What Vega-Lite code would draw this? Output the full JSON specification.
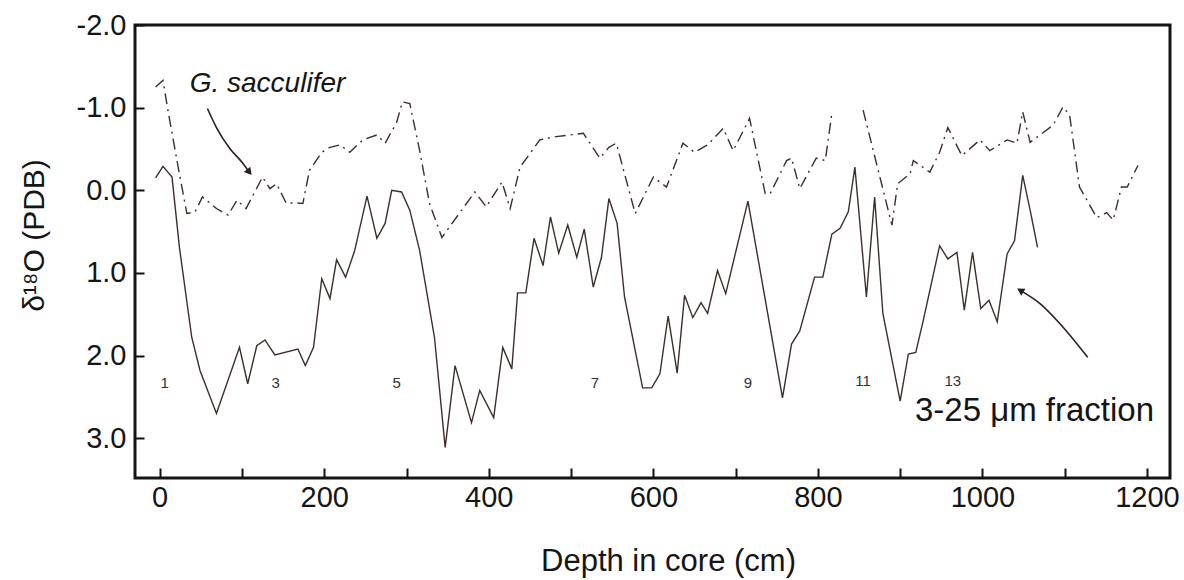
{
  "$schema": "https://vega.github.io/schema/vega-lite/v6.json",
  "width": 1035,
  "height": 453,
  "autosize": {"type": "none"},
  "padding": {"left": 135, "top": 25, "right": 14, "bottom": 102},
  "background": "white",
  "config": {
    "view": {"stroke": "#151515", "strokeWidth": 3},
    "font": "Liberation Sans",
    "axis": {
      "grid": false,
      "domain": false,
      "labelFont": "Liberation Sans",
      "labelFontSize": 29,
      "labelColor": "#151515",
      "titleFont": "Liberation Sans",
      "titleFontSize": 29,
      "titleFontWeight": "normal",
      "titleColor": "#151515"
    }
  },
  "datasets": {
    "fine": [
      {"d": -5, "v": -0.15}, {"d": 4, "v": -0.29}, {"d": 15, "v": -0.16}, {"d": 24, "v": 0.69},
      {"d": 39, "v": 1.78}, {"d": 49, "v": 2.18}, {"d": 69, "v": 2.7}, {"d": 97, "v": 1.9},
      {"d": 107, "v": 2.34}, {"d": 118, "v": 1.88}, {"d": 128, "v": 1.81}, {"d": 140, "v": 1.99},
      {"d": 168, "v": 1.92}, {"d": 177, "v": 2.12}, {"d": 187, "v": 1.9}, {"d": 197, "v": 1.07},
      {"d": 207, "v": 1.31}, {"d": 215, "v": 0.84}, {"d": 226, "v": 1.05}, {"d": 237, "v": 0.73},
      {"d": 252, "v": 0.07}, {"d": 264, "v": 0.58}, {"d": 274, "v": 0.4}, {"d": 282, "v": 0.0},
      {"d": 294, "v": 0.02}, {"d": 304, "v": 0.24}, {"d": 316, "v": 0.73}, {"d": 334, "v": 1.78},
      {"d": 347, "v": 3.11}, {"d": 359, "v": 2.12}, {"d": 379, "v": 2.81}, {"d": 389, "v": 2.42},
      {"d": 406, "v": 2.75}, {"d": 417, "v": 1.9}, {"d": 428, "v": 2.16}, {"d": 435, "v": 1.24},
      {"d": 445, "v": 1.24}, {"d": 455, "v": 0.58}, {"d": 466, "v": 0.91}, {"d": 475, "v": 0.32},
      {"d": 485, "v": 0.76}, {"d": 496, "v": 0.42}, {"d": 507, "v": 0.81}, {"d": 516, "v": 0.47},
      {"d": 527, "v": 1.17}, {"d": 537, "v": 0.81}, {"d": 546, "v": 0.1}, {"d": 556, "v": 0.4},
      {"d": 565, "v": 1.29}, {"d": 587, "v": 2.39}, {"d": 598, "v": 2.39}, {"d": 608, "v": 2.22},
      {"d": 618, "v": 1.52}, {"d": 629, "v": 2.21}, {"d": 638, "v": 1.27}, {"d": 648, "v": 1.54},
      {"d": 658, "v": 1.36}, {"d": 666, "v": 1.49}, {"d": 678, "v": 0.97}, {"d": 688, "v": 1.25},
      {"d": 715, "v": 0.13}, {"d": 757, "v": 2.51}, {"d": 768, "v": 1.86}, {"d": 778, "v": 1.7},
      {"d": 796, "v": 1.05}, {"d": 806, "v": 1.05}, {"d": 817, "v": 0.53}, {"d": 827, "v": 0.46},
      {"d": 837, "v": 0.26}, {"d": 845, "v": -0.28}, {"d": 859, "v": 1.29}, {"d": 869, "v": 0.08},
      {"d": 879, "v": 1.49}, {"d": 900, "v": 2.55}, {"d": 910, "v": 1.98}, {"d": 919, "v": 1.96},
      {"d": 928, "v": 1.58}, {"d": 948, "v": 0.67}, {"d": 958, "v": 0.83}, {"d": 969, "v": 0.75},
      {"d": 978, "v": 1.45}, {"d": 988, "v": 0.75}, {"d": 998, "v": 1.43}, {"d": 1008, "v": 1.33},
      {"d": 1018, "v": 1.59}, {"d": 1030, "v": 0.77}, {"d": 1039, "v": 0.61}, {"d": 1049, "v": -0.18},
      {"d": 1058, "v": 0.24}, {"d": 1067, "v": 0.69}
    ],
    "sacc": [
      {"seg": "a", "d": -5, "v": -1.25}, {"seg": "a", "d": 4, "v": -1.33}, {"seg": "a", "d": 10, "v": -0.97},
      {"seg": "a", "d": 21, "v": -0.36}, {"seg": "a", "d": 33, "v": 0.28}, {"seg": "a", "d": 43, "v": 0.26},
      {"seg": "a", "d": 52, "v": 0.08}, {"seg": "a", "d": 69, "v": 0.22}, {"seg": "a", "d": 83, "v": 0.3},
      {"seg": "a", "d": 94, "v": 0.12}, {"seg": "a", "d": 105, "v": 0.22}, {"seg": "a", "d": 125, "v": -0.16},
      {"seg": "a", "d": 134, "v": -0.02}, {"seg": "a", "d": 142, "v": -0.08}, {"seg": "a", "d": 154, "v": 0.16},
      {"seg": "a", "d": 164, "v": 0.15}, {"seg": "a", "d": 174, "v": 0.16}, {"seg": "a", "d": 182, "v": -0.24},
      {"seg": "a", "d": 197, "v": -0.46}, {"seg": "a", "d": 207, "v": -0.52}, {"seg": "a", "d": 219, "v": -0.55},
      {"seg": "a", "d": 231, "v": -0.46}, {"seg": "a", "d": 247, "v": -0.61}, {"seg": "a", "d": 264, "v": -0.67},
      {"seg": "a", "d": 274, "v": -0.57}, {"seg": "a", "d": 288, "v": -0.82}, {"seg": "a", "d": 295, "v": -1.07},
      {"seg": "a", "d": 304, "v": -1.05}, {"seg": "a", "d": 316, "v": -0.48}, {"seg": "a", "d": 328, "v": 0.16},
      {"seg": "a", "d": 343, "v": 0.57}, {"seg": "a", "d": 383, "v": 0.02}, {"seg": "a", "d": 397, "v": 0.2},
      {"seg": "a", "d": 416, "v": -0.1}, {"seg": "a", "d": 426, "v": 0.22}, {"seg": "a", "d": 438, "v": -0.28},
      {"seg": "a", "d": 462, "v": -0.61}, {"seg": "a", "d": 482, "v": -0.65}, {"seg": "a", "d": 515, "v": -0.69},
      {"seg": "a", "d": 535, "v": -0.39}, {"seg": "a", "d": 546, "v": -0.52}, {"seg": "a", "d": 555, "v": -0.57},
      {"seg": "a", "d": 578, "v": 0.28}, {"seg": "a", "d": 600, "v": -0.16}, {"seg": "a", "d": 616, "v": -0.04},
      {"seg": "a", "d": 636, "v": -0.57}, {"seg": "a", "d": 650, "v": -0.46}, {"seg": "a", "d": 666, "v": -0.55},
      {"seg": "a", "d": 685, "v": -0.75}, {"seg": "a", "d": 697, "v": -0.48}, {"seg": "a", "d": 717, "v": -0.87},
      {"seg": "a", "d": 736, "v": 0.04}, {"seg": "a", "d": 742, "v": 0.04}, {"seg": "a", "d": 762, "v": -0.36},
      {"seg": "a", "d": 768, "v": -0.39}, {"seg": "a", "d": 778, "v": -0.02}, {"seg": "a", "d": 798, "v": -0.39},
      {"seg": "a", "d": 809, "v": -0.36}, {"seg": "a", "d": 817, "v": -0.93},
      {"seg": "b", "d": 855, "v": -0.97}, {"seg": "b", "d": 890, "v": 0.42}, {"seg": "b", "d": 897, "v": -0.08},
      {"seg": "b", "d": 912, "v": -0.2}, {"seg": "b", "d": 916, "v": -0.36}, {"seg": "b", "d": 936, "v": -0.22},
      {"seg": "b", "d": 948, "v": -0.46}, {"seg": "b", "d": 958, "v": -0.76}, {"seg": "b", "d": 975, "v": -0.42},
      {"seg": "b", "d": 997, "v": -0.61}, {"seg": "b", "d": 1009, "v": -0.48}, {"seg": "b", "d": 1030, "v": -0.61},
      {"seg": "b", "d": 1042, "v": -0.57}, {"seg": "b", "d": 1049, "v": -0.95}, {"seg": "b", "d": 1058, "v": -0.58},
      {"seg": "b", "d": 1070, "v": -0.67}, {"seg": "b", "d": 1086, "v": -0.79}, {"seg": "b", "d": 1098, "v": -1.01},
      {"seg": "b", "d": 1106, "v": -0.91}, {"seg": "b", "d": 1118, "v": -0.04}, {"seg": "b", "d": 1139, "v": 0.33},
      {"seg": "b", "d": 1151, "v": 0.27}, {"seg": "b", "d": 1159, "v": 0.36}, {"seg": "b", "d": 1169, "v": -0.04},
      {"seg": "b", "d": 1176, "v": -0.04}, {"seg": "b", "d": 1189, "v": -0.3}
    ],
    "stages": [
      {"d": 6, "v": 2.33, "label": "1"}, {"d": 141, "v": 2.33, "label": "3"}, {"d": 288, "v": 2.33, "label": "5"},
      {"d": 529, "v": 2.33, "label": "7"}, {"d": 715, "v": 2.33, "label": "9"}, {"d": 855, "v": 2.31, "label": "11"},
      {"d": 964, "v": 2.31, "label": "13"}
    ],
    "arrows": [
      {"arrow": "a1", "d": 58, "v": -0.99}, {"arrow": "a1", "d": 69, "v": -0.76}, {"arrow": "a1", "d": 85, "v": -0.51},
      {"arrow": "a1", "d": 100, "v": -0.34}, {"arrow": "a1", "d": 109, "v": -0.22},
      {"arrow": "a2", "d": 1046, "v": 1.21}, {"arrow": "a2", "d": 1070, "v": 1.37}, {"arrow": "a2", "d": 1094, "v": 1.61},
      {"arrow": "a2", "d": 1128, "v": 2.02}
    ]
  },
  "encoding": {
    "x": {
      "field": "d", "type": "quantitative",
      "scale": {"domain": [-30, 1228], "nice": false, "zero": false},
      "axis": {
        "title": "Depth in core (cm)",
        "values": [0, 100, 200, 300, 400, 500, 600, 700, 800, 900, 1000, 1100, 1200],
        "labelExpr": "datum.value % 200 == 0 ? '' + datum.value : ''",
        "offset": -10,
        "ticks": true,
        "tickSize": 10,
        "tickColor": "#111111",
        "tickWidth": 2,
        "labelPadding": 5,
        "titleFontSize": 31,
        "titleX": 533,
        "titleY": 102,
        "titleBaseline": "alphabetic",
        "titleAnchor": "middle",
        "titleAlign": "center"
      }
    },
    "y": {
      "field": "v", "type": "quantitative",
      "scale": {"domain": [-2.0, 3.48], "nice": false, "zero": false, "reverse": true},
      "axis": {
        "title": "δ¹⁸O (PDB)",
        "values": [-2, -1, 0, 1, 2, 3],
        "labelExpr": "replace(format(datum.value, '.1f'), '\u2212', '-')",
        "offset": -9,
        "ticks": true,
        "tickSize": 9,
        "tickColor": "#111111",
        "tickWidth": 2,
        "labelPadding": 9,
        "titleFontSize": 30,
        "titleX": -110,
        "titleY": 210,
        "titleAngle": -90,
        "titleBaseline": "middle",
        "titleAlign": "center"
      }
    }
  },
  "layer": [
    {
      "data": {"name": "fine"},
      "mark": {"type": "line", "color": "#3d2e2b", "strokeWidth": 1.4}
    },
    {
      "data": {"name": "sacc"},
      "mark": {"type": "line", "color": "#3d2e2b", "strokeWidth": 1.4, "strokeDash": [11, 5, 2, 5]},
      "encoding": {"detail": {"field": "seg"}}
    },
    {
      "data": {"name": "arrows"},
      "mark": {"type": "line", "color": "#2a2020", "strokeWidth": 1.6, "interpolate": "monotone"},
      "encoding": {"detail": {"field": "arrow"}}
    },
    {
      "data": {"values": [{"d": 109, "v": -0.22}]},
      "mark": {"type": "point", "shape": "triangle-up", "filled": true, "size": 70, "angle": 141, "color": "#2a2020", "opacity": 1}
    },
    {
      "data": {"values": [{"d": 1046, "v": 1.21}]},
      "mark": {"type": "point", "shape": "triangle-up", "filled": true, "size": 70, "angle": 301, "color": "#2a2020", "opacity": 1}
    },
    {
      "data": {"name": "stages"},
      "mark": {"type": "text", "fontSize": 15, "color": "#333", "align": "center", "baseline": "middle"},
      "encoding": {"text": {"field": "label"}}
    },
    {
      "data": {"values": [{"d": 36.5, "v": -1.19, "label": "G. sacculifer"}]},
      "mark": {"type": "text", "fontSize": 28, "fontStyle": "italic", "color": "#151515", "align": "left", "baseline": "alphabetic"},
      "encoding": {"text": {"field": "label"}}
    },
    {
      "data": {"values": [{"d": 918, "v": 2.79, "label": "3-25 μm fraction"}]},
      "mark": {"type": "text", "fontSize": 33, "color": "#151515", "align": "left", "baseline": "alphabetic"},
      "encoding": {"text": {"field": "label"}}
    }
  ]
}
